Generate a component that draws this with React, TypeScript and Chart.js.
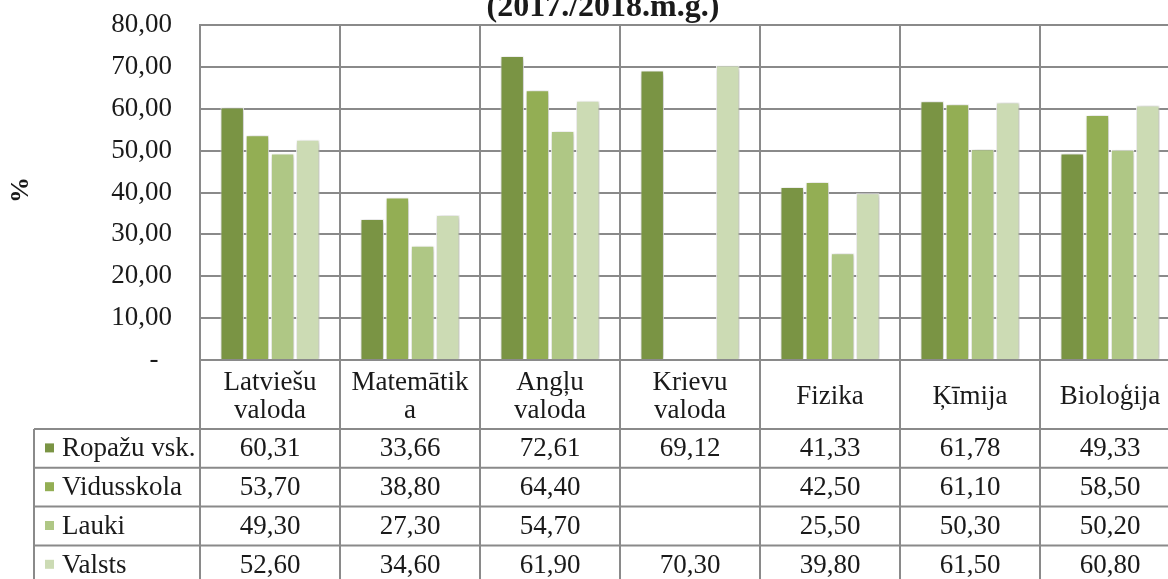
import React, { useEffect, useRef } from 'react';
import { Chart, registerables } from 'chart.js';

Chart.register(...registerables);

const categories: string[][] = [
  ['Latviešu', 'valoda'],
  ['Matemātik', 'a'],
  ['Angļu', 'valoda'],
  ['Krievu', 'valoda'],
  ['Fizika'],
  ['Ķīmija'],
  ['Bioloģija'],
];
const seriesNames = ['Ropažu vsk.', 'Vidusskola', 'Lauki', 'Valsts'];
const ropazu = [60.31, 33.66, 72.61, 69.12, 41.33, 61.78, 49.33];
const vidusskola = [53.7, 38.8, 64.4, null, 42.5, 61.1, 58.5];
const lauki = [49.3, 27.3, 54.7, null, 25.5, 50.3, 50.2];
const valsts = [52.6, 34.6, 61.9, 70.3, 39.8, 61.5, 60.8];
const seriesValues = [ropazu, vidusskola, lauki, valsts];
const seriesColors = ['#7a9444', '#93ae54', '#afc785', '#ccdbb4'];
const yMin = 0;
const yMax = 80;
const yStep = 10;
const titleText = '(2017./2018.m.g.)';
const yTitleText = '%';

const GRID = '#8a8a8a';
const TEXT = '#1a1a1a';
const FONT = '"Liberation Serif", "Times New Roman", serif';
const FS = 27;

const fmt = (v: number | null) => (v == null ? '' : v.toFixed(2).replace('.', ','));

const tablePlugin = {
  id: 'tablePlugin',
  beforeDatasetsDraw(chart: any) {
    const ctx = chart.ctx;
    ctx.save();
    ctx.shadowColor = 'rgba(0,0,0,0.3)';
    ctx.shadowBlur = 5;
    ctx.shadowOffsetX = 1;
    ctx.shadowOffsetY = 1;
  },
  afterDatasetsDraw(chart: any) {
    chart.ctx.restore();
  },
  afterDraw(chart: any) {
    const ctx = chart.ctx;
    const x = chart.scales.x;
    const area = chart.chartArea;
    const n = categories.length;
    const colW = x.getPixelForValue(1) - x.getPixelForValue(0);
    const left = x.getPixelForValue(0) - colW / 2;
    const bounds = Array.from({ length: n + 1 }, (_, i) => left + i * colW);
    const headerBottom = area.bottom + 69;
    const rowH = 38.8;
    const tableLeft = 34;
    const H = chart.height;

    ctx.save();
    ctx.strokeStyle = GRID;
    ctx.lineWidth = 2;
    const line = (x1: number, y1: number, x2: number, y2: number) => {
      ctx.beginPath();
      ctx.moveTo(x1, y1);
      ctx.lineTo(x2, y2);
      ctx.stroke();
    };
    bounds.forEach((b) => line(b, area.bottom, b, H));
    line(tableLeft, headerBottom, tableLeft, H);
    for (let r = 0; r <= seriesNames.length; r++) {
      const y = headerBottom + r * rowH;
      line(tableLeft, y, bounds[n], y);
    }

    ctx.fillStyle = TEXT;
    ctx.font = `${FS}px ${FONT}`;
    ctx.textAlign = 'center';
    ctx.textBaseline = 'middle';
    categories.forEach((lines, i) => {
      const cx = (bounds[i] + bounds[i + 1]) / 2;
      if (lines.length === 2) {
        ctx.fillText(lines[0], cx, area.bottom + 23);
        ctx.fillText(lines[1], cx, area.bottom + 51);
      } else {
        ctx.fillText(lines[0], cx, area.bottom + 37);
      }
    });

    seriesNames.forEach((name, r) => {
      const cy = headerBottom + r * rowH + rowH / 2;
      ctx.fillStyle = seriesColors[r];
      ctx.fillRect(45, cy - 5, 9, 9);
      ctx.fillStyle = TEXT;
      ctx.textAlign = 'left';
      ctx.fillText(name, 62, cy + 1);
      ctx.textAlign = 'center';
      seriesValues[r].forEach((v, i) => {
        const cx = (bounds[i] + bounds[i + 1]) / 2;
        ctx.fillText(fmt(v), cx, cy + 1);
      });
    });

    ctx.font = `bold 32px ${FONT}`;
    ctx.textAlign = 'center';
    ctx.textBaseline = 'alphabetic';
    ctx.fillText(titleText, 603, 16);

    ctx.save();
    ctx.translate(21, 190);
    ctx.rotate(-Math.PI / 2);
    ctx.font = `bold 26px ${FONT}`;
    ctx.textBaseline = 'middle';
    ctx.textAlign = 'center';
    ctx.fillText(yTitleText, 0, 0);
    ctx.restore();

    ctx.restore();
  },
};

export default function App() {
  const ref = useRef<HTMLCanvasElement | null>(null);

  useEffect(() => {
    if (!ref.current) return;
    const chart = new Chart(ref.current, {
      type: 'bar',
      data: {
        labels: categories.map((c) => c.join(' ')),
        datasets: seriesNames.map((name, i) => ({
          label: name,
          data: seriesValues[i] as any,
          backgroundColor: seriesColors[i],
          borderColor: '#ffffff',
          borderWidth: 1,
          categoryPercentage: 0.72,
          barPercentage: 0.93,
        })),
      },
      options: {
        responsive: false,
        animation: false,
        devicePixelRatio: 1,
        layout: { padding: { left: 0, top: 25, right: 20, bottom: 240 } },
        plugins: {
          legend: { display: false },
          title: { display: false },
          tooltip: { enabled: false },
        },
        scales: {
          x: {
            ticks: { display: false },
            grid: { color: GRID, lineWidth: 2, drawTicks: false, offset: true },
            border: { color: GRID, width: 2 },
            afterFit: (s: any) => {
              s.height = 0;
              s.paddingLeft = 0;
              s.paddingRight = 0;
            },
          },
          y: {
            min: yMin,
            max: yMax,
            ticks: {
              stepSize: yStep,
              padding: 28,
              color: TEXT,
              font: { family: FONT, size: FS },
              callback: (v: any) => (Number(v) === 0 ? '-  ' : Number(v).toFixed(2).replace('.', ',')),
            },
            grid: { color: GRID, lineWidth: 2, drawTicks: false },
            border: { color: GRID, width: 2 },
            afterFit: (s: any) => {
              s.width = 200;
              s.paddingTop = 0;
              s.paddingBottom = 0;
            },
          },
        },
      },
      plugins: [tablePlugin],
    });
    return () => chart.destroy();
  }, []);

  return (
    <div
      style={{
        position: 'fixed',
        left: 0,
        top: 0,
        width: 1168,
        height: 579,
        overflow: 'hidden',
        background: '#ffffff',
      }}
    >
      <canvas ref={ref} width={1200} height={600} style={{ display: 'block', width: 1200, height: 600 }} />
    </div>
  );
}
